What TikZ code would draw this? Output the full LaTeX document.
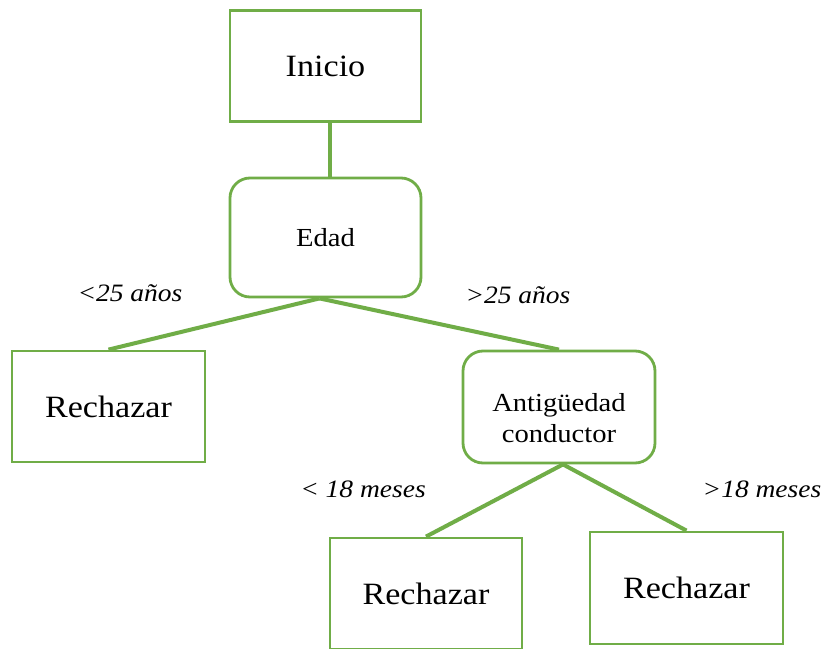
\documentclass[tikz,border=0pt]{standalone}
\usepackage{fontspec}
\setmainfont[FakeStretch=1.1]{Liberation Serif}
\definecolor{grn}{HTML}{70AD47}
\begin{document}
\begin{tikzpicture}[x=1pt,y=-1pt,
  box/.style={draw=grn,line width=2.8pt,minimum width=191pt,minimum height=111pt,inner sep=0pt,align=center},
  rbox/.style={box,rounded corners=20pt},
  big/.style={font=\fontsize{31}{34}\selectfont},
  mid/.style={font=\fontsize{26}{31}\selectfont},
  lbl/.style={font=\fontsize{25}{30}\selectfont\itshape,inner sep=0pt},
  conn/.style={draw=grn,line width=4pt}]
\useasboundingbox[fill=white] (0,0) rectangle (830,648);
\node[box,big] (inicio) at (325.5,66) {Inicio};
\node[rbox,mid,minimum height=119pt] (edad) at (325.5,237.5) {Edad};
\node[box,big,minimum width=193pt] (rech1) at (108.5,406.5) {Rechazar};
\node[rbox,minimum width=192pt,minimum height=112pt] (ant) at (559,407) {};
\node[mid,align=center,inner sep=0pt] (anttext) at (559,418) {Antigüedad\\conductor};
\node[box,big,minimum width=192pt] (rech2) at (426,593.5) {Rechazar};
\node[box,big,minimum width=193pt,minimum height=112pt] (rech3) at (686.5,588) {Rechazar};
\draw[conn] ([xshift=4pt]inicio.south) -- ([xshift=4pt]edad.north);
\draw[conn] ([xshift=-6pt]edad.south) -- (rech1.north);
\draw[conn] ([xshift=-6pt]edad.south) -- (ant.north);
\draw[conn] ([xshift=4pt]ant.south) -- (rech2.north);
\draw[conn] ([xshift=4pt]ant.south) -- (rech3.north);
\node[lbl] (l1) at (130,293) {<25 años};
\node[lbl] (l2) at (518,295) {>25 años};
\node[lbl] (l3) at (363,489) {< 18 meses};
\node[lbl] (l4) at (762,489) {>18 meses};
\end{tikzpicture}
\end{document}
